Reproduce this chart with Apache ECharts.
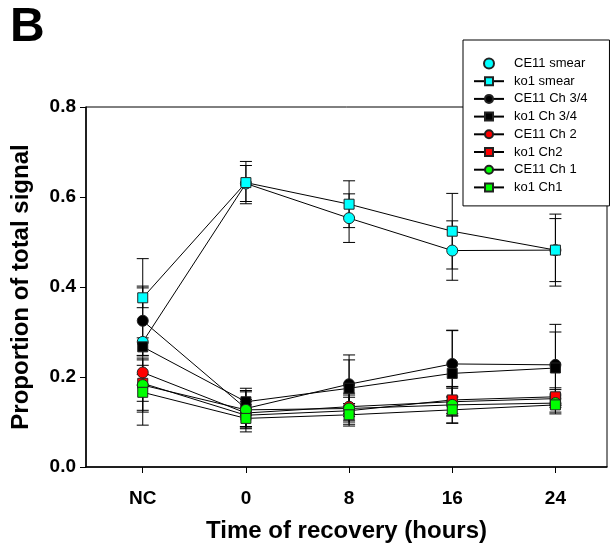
<!DOCTYPE html>
<html>
<head>
<meta charset="utf-8">
<script src="https://cdn.jsdelivr.net/npm/echarts@6/dist/echarts.min.js"></script>
<style>
html,body{margin:0;padding:0;background:#fff;}
#chart{width:612px;height:546px;}
</style>
</head>
<body>
<div id="chart"></div>
<script>
// ---- data ----
var xLabels = ['NC', '0', '8', '16', '24'];
var seriesNames = ['CE11 smear', 'ko1 smear', 'CE11 Ch 3/4', 'ko1 Ch 3/4', 'CE11 Ch 2', 'ko1 Ch2', 'CE11 Ch 1', 'ko1 Ch1'];
var ce11Smear   = [0.278, 0.630, 0.553, 0.481, 0.482];
var ko1Smear    = [0.376, 0.632, 0.584, 0.524, 0.482];
var ce11Ch34    = [0.325, 0.130, 0.184, 0.229, 0.227];
var ko1Ch34     = [0.267, 0.145, 0.175, 0.208, 0.220];
var ce11Ch2     = [0.210, 0.120, 0.134, 0.145, 0.152];
var ko1Ch2      = [0.186, 0.115, 0.125, 0.149, 0.156];
var ce11Ch1     = [0.182, 0.127, 0.130, 0.138, 0.142];
var ko1Ch1      = [0.166, 0.108, 0.116, 0.127, 0.138];
// error bar half-lengths
var ce11SmearErr = [0.185, 0.040, 0.054, 0.066, 0.080];
var ko1SmearErr  = [0.022, 0.047, 0.052, 0.084, 0.070];
var ce11Ch34Err  = [0.077, 0.040, 0.065, 0.075, 0.090];
var ko1Ch34Err   = [0.020, 0.030, 0.063, 0.095, 0.080];
var ce11Ch2Err   = [0.028, 0.030, 0.030, 0.030, 0.020];
var ko1Ch2Err    = [0.040, 0.030, 0.030, 0.030, 0.020];
var ce11Ch1Err   = [0.060, 0.040, 0.030, 0.040, 0.020];
var ko1Ch1Err    = [0.040, 0.030, 0.025, 0.030, 0.020];
var yTicks = [0, 0.2, 0.4, 0.6, 0.8];

var values = [ce11Smear, ko1Smear, ce11Ch34, ko1Ch34, ce11Ch2, ko1Ch2, ce11Ch1, ko1Ch1];
var errors = [ce11SmearErr, ko1SmearErr, ce11Ch34Err, ko1Ch34Err, ce11Ch2Err, ko1Ch2Err, ce11Ch1Err, ko1Ch1Err];
var colors = ['#00FFFF', '#00FFFF', '#000000', '#000000', '#FF0000', '#FF0000', '#00FF00', '#00FF00'];
var symbols = ['circle', 'rect', 'circle', 'rect', 'circle', 'rect', 'circle', 'rect'];

var chart = echarts.init(document.getElementById('chart'), null, {renderer: 'canvas'});

var series = [];
// error bars
values.forEach(function (vals, si) {
  var data = vals.map(function (v, i) { return [i, v - errors[si][i], v + errors[si][i]]; });
  series.push({
    type: 'custom',
    name: seriesNames[si] + ' err',
    data: data,
    z: 1,
    silent: true,
    renderItem: function (params, api) {
      var x = api.value(0);
      var lo = api.coord([x, api.value(1)]);
      var hi = api.coord([x, api.value(2)]);
      var hw = 6;
      var st = {stroke: '#000', lineWidth: 1};
      return {
        type: 'group',
        children: [
          {type: 'line', shape: {x1: lo[0], y1: lo[1], x2: hi[0], y2: hi[1]}, style: st},
          {type: 'line', shape: {x1: lo[0] - hw, y1: lo[1], x2: lo[0] + hw, y2: lo[1]}, style: st},
          {type: 'line', shape: {x1: hi[0] - hw, y1: hi[1], x2: hi[0] + hw, y2: hi[1]}, style: st}
        ]
      };
    }
  });
});
// lines + markers
values.forEach(function (vals, si) {
  series.push({
    type: 'line',
    name: seriesNames[si],
    data: vals.map(function (v, i) { return [i, v]; }),
    symbol: symbols[si],
    symbolSize: symbols[si] === 'circle' ? 11 : 10,
    showSymbol: true,
    z: 3,
    lineStyle: {color: '#000', width: 1},
    itemStyle: {color: colors[si], borderColor: '#222', borderWidth: 1},
    emphasis: {disabled: true},
    animation: false
  });
});

var legendData = seriesNames.map(function (n, i) {
  return i === 0 ? {name: n, icon: 'circle'} : {name: n};
});

chart.setOption({
  animation: false,
  backgroundColor: '#fff',
  grid: {left: 86, top: 107, right: 5, bottom: 79, show: true, borderColor: '#000', borderWidth: 1,
         backgroundColor: 'transparent', containLabel: false, outerBoundsMode: 'none'},
  graphic: [{
    type: 'text', left: 10, top: 4,
    style: {text: 'B', font: 'bold 48px "Liberation Sans", Arial, sans-serif', fill: '#000'}
  }],
  legend: {
    orient: 'vertical',
    left: 463, top: 40,
    padding: [17, 22, 12, 10],
    itemWidth: 30, itemHeight: 10, itemGap: 4.7,
    backgroundColor: '#fff', borderColor: '#000', borderWidth: 1, borderRadius: 0,
    data: legendData,
    textStyle: {fontFamily: '"Liberation Sans", Arial, sans-serif', fontSize: 13, color: '#000', padding: [0, 0, 0, 5]},
    selectedMode: false,
    z: 10
  },
  xAxis: {
    type: 'value', min: -0.55, max: 4.5,
    name: 'Time of recovery (hours)', nameLocation: 'middle', nameGap: 52,
    nameTextStyle: {fontFamily: '"Liberation Sans", Arial, sans-serif', fontWeight: 'bold', fontSize: 24, color: '#000'},
    axisLine: {onZero: false, lineStyle: {color: '#000', width: 1.5}},
    axisTick: {show: true, length: 6, lineStyle: {color: '#000', width: 1}, customValues: [0, 1, 2, 3, 4]},
    axisLabel: {
      customValues: [0, 1, 2, 3, 4], margin: 22,
      fontFamily: '"Liberation Sans", Arial, sans-serif', fontWeight: 'bold', fontSize: 19, color: '#000',
      formatter: function (v) { return xLabels[Math.round(v)]; }
    },
    splitLine: {show: false}
  },
  yAxis: {
    type: 'value', min: 0, max: 0.8, interval: 0.2,
    name: 'Proportion of total signal', nameLocation: 'middle', nameGap: 53,
    nameTextStyle: {fontFamily: '"Liberation Sans", Arial, sans-serif', fontWeight: 'bold', fontSize: 24, color: '#000'},
    axisLine: {show: true, onZero: false, lineStyle: {color: '#000', width: 1.5}},
    axisTick: {show: true, length: 6, lineStyle: {color: '#000', width: 1}},
    axisLabel: {
      margin: 10,
      fontFamily: '"Liberation Sans", Arial, sans-serif', fontWeight: 'bold', fontSize: 19, color: '#000',
      formatter: function (v) { return v.toFixed(1); }
    },
    splitLine: {show: false}
  },
  series: series
});
</script>
</body>
</html>
